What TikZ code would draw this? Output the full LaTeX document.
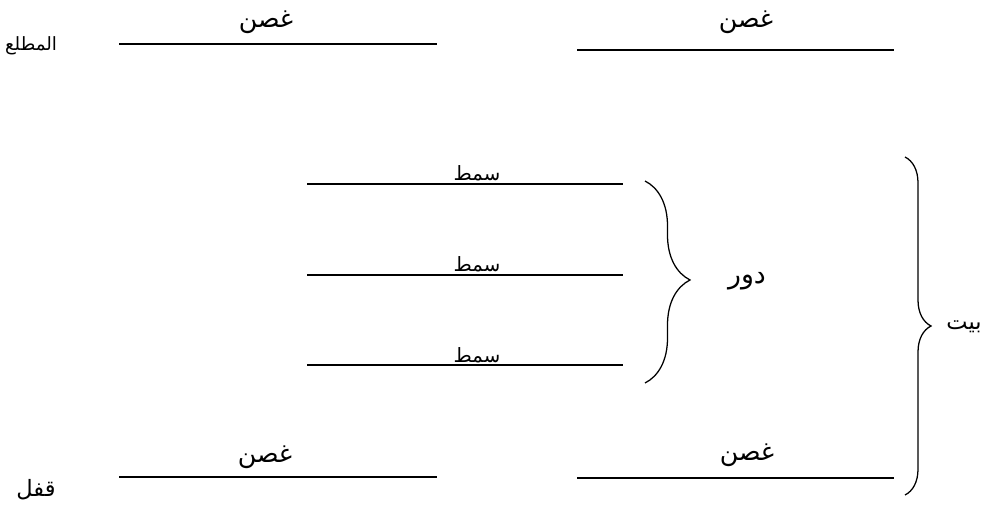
\documentclass[tikz,border=0pt]{standalone}
\usepackage{fontspec}
\newfontfamily\arabicfont[Script=Arabic]{DejaVu Sans}
\TeXXeTstate=1
\usetikzlibrary{decorations.pathreplacing}
\begin{document}
\begin{tikzpicture}[x=0.025cm,y=-0.025cm,
  ar/.style={font=\arabicfont\fontsize{#1}{#1}\selectfont, inner sep=0pt},
  ar/.default=18,
  rule/.style={line width=1pt},
  bracedur/.style={decorate, decoration={brace, amplitude=1.125cm, aspect=0.49}, line width=0.9pt},
  bracebig/.style={decorate, decoration={brace, amplitude=0.65cm, aspect=0.5}, line width=0.9pt}]
\useasboundingbox (0,0) rectangle (998,510);
% labels at left
\node[ar=13] (matla) at (31,46) {\beginR المطلع\endR};
\node[ar=16] (qufl) at (36,490) {\beginR قفل\endR};
% top row
\coordinate (t1a) at (119,44); \coordinate (t1b) at (437,44);
\coordinate (t2a) at (577,50); \coordinate (t2b) at (894,50);
\draw[rule] (t1a) -- (t1b);
\draw[rule] (t2a) -- (t2b);
\node[ar] (g1) at (266,22) {\beginR غصن\endR};
\node[ar] (g2) at (746,22) {\beginR غصن\endR};
% simt lines
\coordinate (s1a) at (307,184); \coordinate (s1b) at (623,184);
\coordinate (s2a) at (307,275); \coordinate (s2b) at (623,275);
\coordinate (s3a) at (307,365); \coordinate (s3b) at (623,365);
\draw[rule] (s1a) -- (s1b);
\draw[rule] (s2a) -- (s2b);
\draw[rule] (s3a) -- (s3b);
\node[ar=14, anchor=base] (sm1) at (477,181) {\beginR سمط\endR};
\node[ar=14, anchor=base] (sm2) at (477,272) {\beginR سمط\endR};
\node[ar=14, anchor=base] (sm3) at (477,362) {\beginR سمط\endR};
% dawr brace
\coordinate (d1) at (645,181); \coordinate (d2) at (645,383);
\draw[bracedur] (d1) -- (d2);
\node[ar=19] (dawr) at (747,281) {\beginR دور\endR};
% bottom row
\coordinate (b1a) at (119,477); \coordinate (b1b) at (437,477);
\coordinate (b2a) at (577,478); \coordinate (b2b) at (894,478);
\draw[rule] (b1a) -- (b1b);
\draw[rule] (b2a) -- (b2b);
\node[ar] (g3) at (265,457) {\beginR غصن\endR};
\node[ar] (g4) at (747,455) {\beginR غصن\endR};
% bayt brace
\coordinate (bb1) at (905,157); \coordinate (bb2) at (905,495);
\draw[bracebig] (bb1) -- (bb2);
\node[ar=16] (bayt) at (964,327) {\beginR بيت\endR};
\end{tikzpicture}
\end{document}
